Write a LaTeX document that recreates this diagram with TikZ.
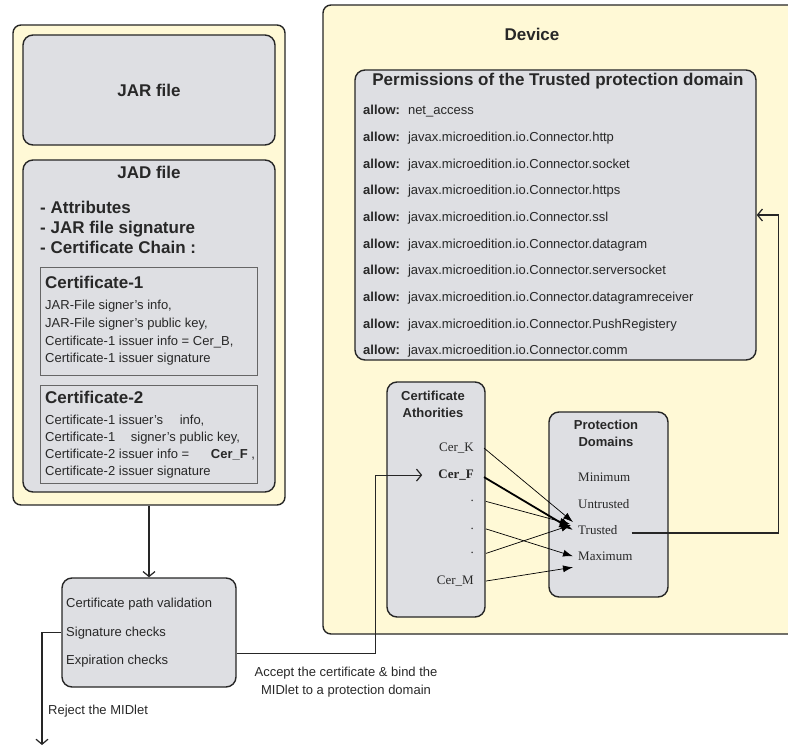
\documentclass[tikz,border=0pt]{standalone}
\usepackage{fontspec}
\setmainfont{Liberation Sans}
\newfontfamily\timesfont{Liberation Serif}
\usetikzlibrary{arrows.meta}

\definecolor{devyellow}{RGB}{255,249,214}
\definecolor{boxgray}{RGB}{222,223,227}
\definecolor{inkgray}{RGB}{40,40,40}

\newcommand{\headfont}{\fontsize{17}{20}\selectfont\bfseries}
\newcommand{\smallhead}{\fontsize{13}{17}\selectfont\bfseries}
\newcommand{\entryfont}{\fontsize{13}{16}\selectfont\timesfont}

\tikzset{
	outerbox/.style={draw=black!85,line width=1.4pt,fill=devyellow,rounded corners=8pt},
	graybox/.style={draw=black!85,line width=1.4pt,fill=boxgray,rounded corners=10pt},
	certbox/.style={draw=black!60,line width=0.6pt},
	flow/.style={draw=black!85,line width=1.2pt,-{Straight Barb[length=5pt,width=12pt]}},
	map/.style={line width=0.7pt,-{Latex[length=10pt,width=7pt]}},
	bigmap/.style={line width=1.8pt,-{Latex[length=14pt,width=10pt]}}
}

\begin{document}
\begin{tikzpicture}[x=1pt,y=-1pt,text=inkgray]
	\useasboundingbox (0,0) rectangle (788,751);

	% boxes
	\begin{scope}[every node/.style={inner sep=0pt}]
		\node[outerbox,minimum width=272pt,minimum height=480pt] (midlet) at (149,265) {};
		\node[graybox,minimum width=252pt,minimum height=110pt] (jar) at (149,90) {};
		\node[graybox,minimum width=252pt,minimum height=332pt] (jad) at (149,326) {};
		\node[certbox,minimum width=217pt,minimum height=108pt] (cert1) at (148.5,321) {};
		\node[certbox,minimum width=217pt,minimum height=98pt] (cert2) at (148.5,434) {};
		\node[graybox,minimum width=174pt,minimum height=109pt] (valid) at (149,632.5) {};
		\node[outerbox,minimum width=477pt,minimum height=629pt] (device) at (561.5,319.5) {};
		\node[graybox,minimum width=401pt,minimum height=290pt] (perm) at (555.5,215) {};
		\node[graybox,minimum width=98pt,minimum height=235pt] (ca) at (436,499.5) {};
		\node[graybox,minimum width=119pt,minimum height=185pt] (pd) at (608.5,504.5) {};
	\end{scope}

	% texts of the MIDlet suite
	\node[font=\headfont] (jarname) at (149,90) {JAR file};
	\node[font=\headfont,anchor=base] (jadname) at (149,179) {JAD file};
	\node[font=\headfont,align=left,anchor=north west,inner sep=0pt] (jadlist) at (40,201)
		{- Attributes\\- JAR file signature\\- Certificate Chain :};
	\node[font=\headfont,anchor=base west,inner sep=0pt] (cert1name) at (45,289) {Certificate-1};
	\node[font={\fontsize{13}{17.7}\selectfont},align=left,anchor=north west,inner sep=0pt] (cert1text) at (45,300)
		{JAR-File signer's info,\\JAR-File signer's public key,\\Certificate-1 issuer info = Cer\_B,\\Certificate-1 issuer signature};
	\node[font=\headfont,anchor=base west,inner sep=0pt] (cert2name) at (45,404) {Certificate-2};
	\node[font={\fontsize{13}{17}\selectfont},align=left,anchor=north west,inner sep=0pt] (cert2text) at (45,415)
		{Certificate-1 issuer's\hspace{13pt} info,\\Certificate-1\hspace{12pt} signer's public key,\\Certificate-2 issuer info =\hspace{18pt} \textbf{Cer\_F} ,\\Certificate-2 issuer signature};

	% validation
	\node[font={\fontsize{13}{28.5}\selectfont},align=left,anchor=north west,inner sep=0pt] (checks) at (66,598)
		{Certificate path validation\\Signature checks\\Expiration checks};
	\node[font={\fontsize{13}{18}\selectfont},anchor=base west,inner sep=0pt] (rejectlabel) at (48,714.5) {Reject the MIDlet};
	\node[font={\fontsize{13}{18}\selectfont},align=center,anchor=north,inner sep=0pt] (acceptlabel) at (346,667)
		{Accept the certificate \& bind the\\MIDlet to a protection domain};
	\coordinate (reject) at (42,745);

	% device
	\node[font=\headfont,anchor=base] (devname) at (532,41) {Device};
	\node[font=\headfont,anchor=base] (permname) at (558,86) {Permissions of the Trusted protection domain};
	\node[font={\fontsize{13}{26.7}\selectfont},align=left,anchor=north west,inner sep=0pt] (allowlist) at (363,105)
		{\textbf{allow:}\hspace{8pt}net\_access\\
		\textbf{allow:}\hspace{8pt}javax.microedition.io.Connector.http\\
		\textbf{allow:}\hspace{8pt}javax.microedition.io.Connector.socket\\
		\textbf{allow:}\hspace{8pt}javax.microedition.io.Connector.https\\
		\textbf{allow:}\hspace{8pt}javax.microedition.io.Connector.ssl\\
		\textbf{allow:}\hspace{8pt}javax.microedition.io.Connector.datagram\\
		\textbf{allow:}\hspace{8pt}javax.microedition.io.Connector.serversocket\\
		\textbf{allow:}\hspace{8pt}javax.microedition.io.Connector.datagramreceiver\\
		\textbf{allow:}\hspace{8pt}javax.microedition.io.Connector.PushRegistery\\
		\textbf{allow:}\hspace{8pt}javax.microedition.io.Connector.comm};

	\node[font=\smallhead,align=center,anchor=north,inner sep=0pt] (caname) at (433,391) {Certificate\\Athorities};
	\node[font=\smallhead,align=center,anchor=north,inner sep=0pt] (pdname) at (606,420) {Protection\\Domains};

	\begin{scope}[every node/.style={font=\entryfont,anchor=base east,inner sep=2pt}]
		\node (cerK) at (476,451.5) {Cer\_K};
		\node (cerF) at (476,478.5) {\textbf{Cer\_F}};
		\node (dotA) at (476,502) {.};
		\node (dotB) at (476,529.5) {.};
		\node (dotC) at (476,554) {.};
		\node (cerM) at (476,584.5) {Cer\_M};
	\end{scope}

	\begin{scope}[every node/.style={font=\entryfont,anchor=base west,inner sep=2pt}]
		\node (minimum) at (576,481.5) {Minimum};
		\node (untrusted) at (576,508.5) {Untrusted};
		\node (trusted) at (576,534.5) {Trusted};
		\node (maximum) at (576,560.5) {Maximum};
	\end{scope}

	% connectors
	\draw[flow] (midlet.south) -- (valid.north);
	\draw[flow] (valid.west) -| (reject);
	\draw[flow] ([yshift=-21pt]valid.east) -| ([xshift=-61pt]cerF.west) -- ([xshift=-14pt]cerF.west);
	\draw[flow] ([xshift=12pt,yshift=-3pt]trusted.east) -| ([xshift=22pt]perm.east) -- (perm.east);

	\draw[map] ([xshift=8pt]cerK.east) -- ([xshift=-3pt,yshift=8pt]trusted.west);
	\draw[bigmap] ([xshift=8pt,yshift=-2pt]cerF.east) -- ([xshift=-3pt]trusted.west);
	\draw[map] ([xshift=10pt]dotA.east) -- ([xshift=-6pt,yshift=6pt]trusted.west);
	\draw[map] ([xshift=10pt]dotB.east) -- ([xshift=-3pt]maximum.west);
	\draw[map] ([xshift=10pt]dotC.east) -- ([xshift=-5pt,yshift=5pt]trusted.west);
	\draw[map] ([xshift=10pt]cerM.east) -- ([xshift=-3pt,yshift=-11pt]maximum.west);
\end{tikzpicture}
\end{document}
